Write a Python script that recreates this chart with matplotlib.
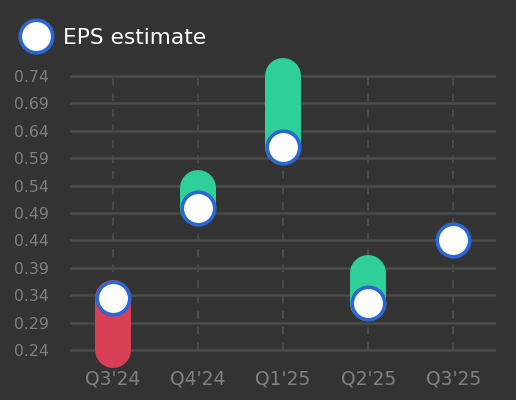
import numpy as np
import matplotlib
matplotlib.use('Agg')
import matplotlib.pyplot as plt
from matplotlib.lines import Line2D

# EPS data
quarters = ["Q3'24", "Q4'24", "Q1'25", "Q2'25", "Q3'25"]
eps_estimate = [0.335, 0.50, 0.61, 0.325, 0.44]
eps_actual = [0.24, 0.535, 0.74, 0.38, None]
y_ticks = [0.24, 0.29, 0.34, 0.39, 0.44, 0.49, 0.54, 0.59, 0.64, 0.69, 0.74]

bg = '#333333'
grid_col = '#4b4b4b'
label_col = '#808080'
green = '#2ecf98'
red = '#d93f55'
blue = '#2a66d4'

fig = plt.figure(figsize=(5.16, 4.0), dpi=100, facecolor=bg)
ax = fig.add_axes([70 / 516, 39 / 400, 426 / 516, 296 / 400])
ax.set_facecolor(bg)

x = np.arange(len(quarters))
ax.set_xlim(-0.5, len(quarters) - 0.5)
ax.set_ylim(0.22, 0.76)

# grid
for t in y_ticks:
    ax.axhline(t, color=grid_col, lw=1.8, zorder=1)
ax.vlines(x, y_ticks[0], y_ticks[-1], colors=grid_col, lw=1.4,
          linestyles=(0, (4, 4)), zorder=1)

# beat / miss bars
bar_lw = 36 * 72 / 100
for xi, est, act in zip(x, eps_estimate, eps_actual):
    if act is None:
        continue
    col = green if act >= est else red
    ax.plot([xi, xi], [est, act], color=col, lw=bar_lw,
            solid_capstyle='round', zorder=2, clip_on=False)

# estimate markers
ax.plot(x, eps_estimate, ls='none', marker='o', ms=23.4, mfc='white',
        mec=blue, mew=2.6, zorder=3, clip_on=False)

ax.set_xticks(x)
ax.set_xticklabels(quarters, fontsize=13.5, color=label_col)
ax.set_yticks(y_ticks)
ax.set_yticklabels([f'{t:.2f}' for t in y_ticks], fontsize=11.3, color=label_col)
ax.tick_params(length=0, pad=6)
ax.tick_params(axis='y', pad=15)
for s in ax.spines.values():
    s.set_visible(False)

# legend
handle = Line2D([], [], ls='none', marker='o', ms=23.4, mfc='white',
                mec=blue, mew=2.6)
fig.legend([handle], ['EPS estimate'], loc='center left',
           bbox_to_anchor=(10 / 516, 1 - 38 / 400), frameon=False,
           fontsize=15.7, labelcolor='white', handletextpad=0.53,
           handlelength=1.4, borderpad=0)

fig.savefig('out.png', dpi=100, facecolor=bg)
